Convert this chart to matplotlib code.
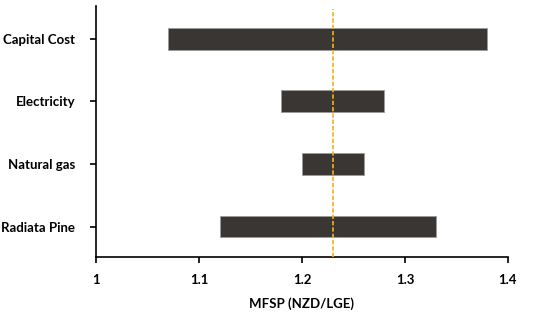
import matplotlib.pyplot as plt

# Sensitivity ranges of MFSP (NZD/LGE)
categories = ['Radiata Pine', 'Natural gas', 'Electricity', 'Capital Cost']
low = [1.12, 1.20, 1.18, 1.07]
high = [1.33, 1.26, 1.28, 1.38]
base = 1.23

plt.rcParams['font.family'] = ['Lato', 'DejaVu Sans']

fig = plt.figure(figsize=(5.5, 3.16), dpi=100)
ax = fig.add_axes([0.1745, 0.186, 0.749, 0.795])

y = list(range(len(categories)))
widths = [h - l for l, h in zip(low, high)]
ax.barh(y, widths, left=low, height=0.35, color='#3a3634', edgecolor='#9a9a9a', linewidth=0.6, zorder=2)
ax.plot([base, base], [-0.49, 3.47], color='#f2b01e', linewidth=1.2, dashes=(2.6, 1.2), zorder=3)

fs = 9.5
ax.set_xlim(1, 1.4)
ax.set_ylim(-0.49, 3.52)
ax.set_xticks([1, 1.1, 1.2, 1.3, 1.4])
ax.set_xticklabels(['1', '1.1', '1.2', '1.3', '1.4'], fontsize=fs, fontweight='bold')
ax.set_yticks(y)
ax.set_yticklabels(categories, fontsize=fs, fontweight='bold')
ax.set_xlabel('MFSP (NZD/LGE)', fontsize=fs, fontweight='bold', labelpad=8)

for s in ['top', 'right']:
    ax.spines[s].set_visible(False)
for s in ['left', 'bottom']:
    ax.spines[s].set_linewidth(1.2)
ax.tick_params(axis='both', direction='out', length=4, width=1.2)
ax.tick_params(axis='y', pad=11)
ax.tick_params(axis='x', pad=8)

fig.savefig('out.png', dpi=100)
